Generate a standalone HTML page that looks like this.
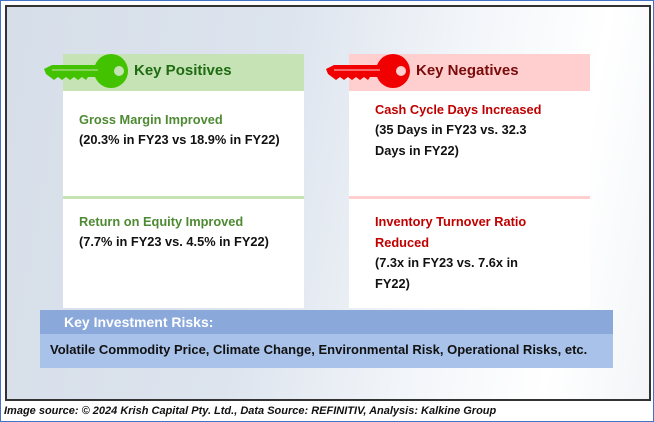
<!DOCTYPE html>
<html><head><meta charset="utf-8"><style>
*{margin:0;padding:0;box-sizing:border-box}
body{width:654px;height:422px;position:relative;background:#fff;font-family:"Liberation Sans",sans-serif;overflow:hidden}
.abs{position:absolute}
.t{position:absolute;font-size:12.8px;font-weight:bold;white-space:nowrap;line-height:20.5px}
</style></head><body>
<div class="abs" style="left:0;top:0;width:654px;height:422px;border:1px solid #4472c4"></div>
<div class="abs" style="left:5px;top:5px;width:646px;height:396px;border:2px solid #333;background:linear-gradient(100deg,#d6dee9 0%,#dde4ee 40%,#f2f5f9 65%,#fff 85%,#f3f5f8 100%)"></div>

<div class="abs" style="left:63px;top:54px;width:241px;height:254px;background:#fff">
 <div style="height:37px;background:#c5e3b5"></div>
 <div style="position:absolute;left:0;top:142px;width:241px;height:3px;background:#c5e3b5"></div>
</div>
<div class="abs" style="left:349px;top:54px;width:241px;height:254px;background:#fff">
 <div style="height:37px;background:#ffcfcf"></div>
 <div style="position:absolute;left:0;top:142px;width:241px;height:3px;background:#ffcfcf"></div>
</div>

<svg class="abs" style="left:40px;top:50px" width="90" height="45">
 <circle cx="71" cy="21" r="17" fill="#43c200"/>
 <circle cx="79" cy="21" r="5" fill="#c5e3b5"/>
 <path d="M4,19 L12,15 L58,15 L58,27 L48,27 L46,30 L42,27 L38,30 L34,27 L30,30 L26,27 L22,30 L18,27 L14,30 L10,27 L6,24 Z" fill="#43c200"/>
 <line x1="12" y1="20" x2="58" y2="20" stroke="#c5e3b5" stroke-width="1"/>
</svg>
<svg class="abs" style="left:322px;top:50px" width="90" height="45">
 <circle cx="71" cy="21" r="17" fill="#f00000"/>
 <circle cx="79" cy="21" r="5" fill="#ffcfcf"/>
 <path d="M4,19 L12,15 L58,15 L58,27 L48,27 L46,30 L42,27 L38,30 L34,27 L30,30 L26,27 L22,30 L18,27 L14,30 L10,27 L6,24 Z" fill="#f00000"/>
 <line x1="12" y1="20" x2="58" y2="20" stroke="#ffcfcf" stroke-width="1"/>
</svg>

<div class="t" style="left:134px;top:61px;font-size:15px;color:#1f6b12">Key Positives</div>
<div class="t" style="left:416px;top:61px;font-size:15px;color:#7a0b0b">Key Negatives</div>

<div class="t" style="left:79px;top:110px;color:#4e8a33">Gross Margin Improved</div>
<div class="t" style="left:79px;top:130px;color:#111">(20.3% in FY23 vs 18.9% in FY22)</div>
<div class="t" style="left:79px;top:212px;color:#4e8a33">Return on Equity Improved</div>
<div class="t" style="left:79px;top:232px;color:#111">(7.7% in FY23 vs. 4.5% in FY22)</div>

<div class="t" style="left:375px;top:100px;color:#c00000">Cash Cycle Days Increased</div>
<div class="t" style="left:375px;top:120px;color:#111">(35 Days in FY23 vs. 32.3<br>Days in FY22)</div>
<div class="t" style="left:375px;top:212px;color:#c00000">Inventory Turnover Ratio<br>Reduced</div>
<div class="t" style="left:375px;top:253px;color:#111">(7.3x in FY23 vs. 7.6x in<br>FY22)</div>

<div class="abs" style="left:40px;top:310px;width:573px;height:58px;background:#a8c2ea">
 <div style="height:24px;background:#8aa9da"></div>
</div>
<div class="t" style="left:64px;top:312px;font-size:14px;color:#fff">Key Investment Risks:</div>
<div class="t" style="left:50px;top:340px;font-size:13px;color:#111">Volatile Commodity Price, Climate Change, Environmental Risk, Operational Risks, etc.</div>

<div class="t" style="left:4px;top:401px;font-size:11px;font-style:italic;color:#111">Image source: © 2024 Krish Capital Pty. Ltd., Data Source: REFINITIV, Analysis: Kalkine Group</div>
</body></html>
